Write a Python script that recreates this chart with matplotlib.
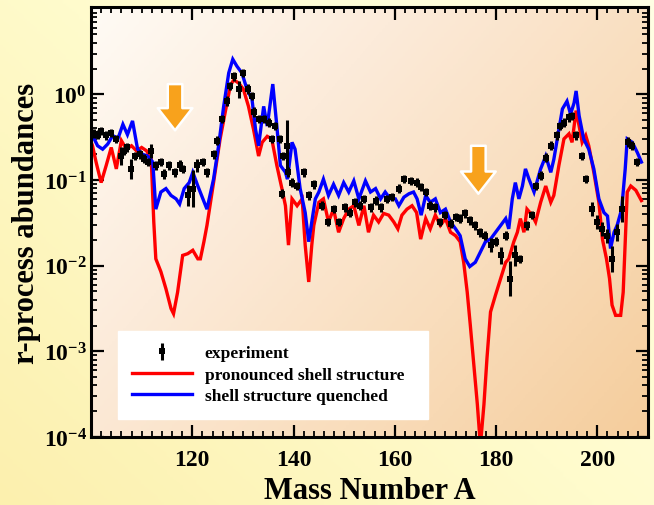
import numpy as np
import matplotlib
matplotlib.use('Agg')
import matplotlib.pyplot as plt
from matplotlib.colors import LinearSegmentedColormap
from matplotlib.ticker import FixedLocator, LogLocator, MultipleLocator, FixedFormatter, NullFormatter

# ---------------- data ----------------
# "pronounced shell structure" (red) : mass number and log10(abundance)
red_A = [100.0, 100.3, 101.0, 102.0, 103.0, 104.0, 105.0, 106.0, 107.0, 108.0, 109.0, 110.0, 111.0, 111.9,
         112.4, 112.8, 113.8, 114.8, 115.8, 116.3, 117.1, 118.1, 119.1, 120.1, 121.1, 121.6, 122.3, 122.9,
         124.2, 125.5, 126.5, 127.5, 128.2, 129.2, 130.1, 131.1, 132.1, 133.1, 133.8, 134.8, 135.7, 136.7,
         137.7, 138.4, 139.0, 139.7, 140.7, 141.7, 142.3, 143.0, 143.6, 144.0, 145.0, 145.9, 146.9, 147.9,
         148.9, 149.9, 150.9, 151.9, 152.9, 153.9, 154.8, 155.8, 156.8, 157.8, 158.8, 159.8, 160.6, 161.4,
         162.4, 163.4, 164.3, 165.1, 166.1, 167.0, 168.0, 169.0, 170.0, 171.0, 172.0, 172.9, 173.6, 174.3,
         174.9, 175.6, 176.3, 176.9, 177.6, 178.2, 178.9, 179.9, 180.9, 181.9, 182.5, 183.5, 184.2, 184.8,
         185.5, 186.1, 187.1, 187.8, 188.8, 189.8, 190.8, 191.4, 192.4, 193.4, 194.4, 195.0, 195.8, 196.4,
         197.0, 197.7, 198.3, 199.3, 200.3, 201.0, 201.8, 202.4, 202.9, 203.6, 204.6, 205.1, 205.5, 205.9,
         206.6, 207.6, 208.7]
red_logY = [-0.55, -0.60, -0.79, -1.03, -0.83, -0.62, -0.87, -0.54, -0.64, -0.60, -0.66, -0.62, -0.66, -0.76,
            -1.49, -1.92, -2.07, -2.27, -2.50, -2.56, -2.31, -1.88, -1.86, -1.82, -1.92, -1.92, -1.72, -1.53,
            -1.03, -0.52, -0.21, 0.10, 0.17, 0.13, 0.06, -0.14, -0.41, -0.72, -0.56, -0.49, -0.52, -0.83,
            -1.10, -1.30, -1.76, -1.22, -1.30, -1.22, -1.76, -2.19, -1.76, -1.53, -1.26, -1.22, -1.49, -1.34,
            -1.61, -1.45, -1.34, -1.30, -1.53, -1.30, -1.61, -1.41, -1.49, -1.39, -1.41, -1.49, -1.57, -1.41,
            -1.34, -1.30, -1.38, -1.69, -1.45, -1.57, -1.41, -1.53, -1.45, -1.61, -1.65, -1.72, -1.96, -2.31,
            -2.69, -3.16, -3.62, -4.10, -3.62, -3.08, -2.54, -2.34, -2.15, -1.96, -1.92, -1.72, -1.61, -1.45,
            -1.61, -1.34, -1.41, -1.49, -1.26, -1.07, -1.26, -1.18, -0.83, -0.52, -0.46, -0.56, -0.19, -0.37,
            -0.56, -0.48, -0.60, -0.91, -1.26, -1.69, -1.92, -2.15, -2.46, -2.58, -2.58, -2.31, -1.73, -1.14,
            -1.07, -1.12, -1.24]

# "shell structure quenched" (blue)
blue_A = [100.0, 100.3, 101.3, 102.3, 103.3, 104.3, 105.3, 106.3, 107.2, 108.2, 109.2, 110.2, 111.2, 112.2,
          112.8, 113.8, 114.8, 115.8, 116.8, 117.5, 118.4, 119.4, 120.1, 121.1, 122.1, 122.9, 124.2, 125.2,
          126.2, 127.2, 128.0, 128.8, 129.8, 130.8, 131.8, 132.5, 133.1, 134.1, 134.8, 135.9, 136.7, 137.4,
          138.4, 138.8, 139.7, 140.3, 141.3, 142.3, 143.0, 143.6, 144.3, 145.0, 145.9, 146.9, 147.9, 148.9,
          149.9, 150.9, 151.9, 152.9, 154.2, 155.2, 156.2, 157.2, 158.1, 159.1, 160.1, 160.8, 161.8, 162.8,
          163.7, 164.4, 165.2, 166.1, 167.0, 168.0, 169.0, 170.0, 171.0, 172.0, 172.9, 173.9, 174.8, 175.9,
          176.9, 177.9, 178.9, 179.9, 180.9, 181.9, 182.5, 183.2, 183.8, 184.5, 185.2, 185.8, 186.5, 187.5,
          188.8, 189.8, 190.8, 191.4, 192.4, 193.1, 194.0, 194.7, 195.4, 195.8, 196.4, 197.3, 198.3, 199.3,
          200.3, 201.3, 202.0, 202.6, 203.3, 203.9, 204.8, 205.5, 205.9, 206.9, 207.9, 208.7]
blue_logY = [-0.45, -0.48, -0.60, -0.64, -0.58, -0.48, -0.52, -0.35, -0.47, -0.31, -0.64, -0.70, -0.72, -0.79,
             -1.34, -1.14, -1.10, -1.18, -1.22, -1.28, -1.10, -1.03, -0.91, -1.07, -1.22, -1.34, -0.99, -0.60,
             -0.14, 0.25, 0.41, 0.33, 0.25, 0.06, -0.06, -0.41, -0.60, -0.14, -0.37, 0.12, -0.37, -0.83,
             -0.91, -0.99, -0.56, -0.64, -1.10, -1.38, -1.72, -1.49, -1.22, -1.14, -0.99, -1.18, -1.05, -1.18,
             -1.03, -1.14, -1.01, -1.22, -1.01, -1.14, -1.10, -1.22, -1.14, -1.22, -1.22, -1.30, -1.20, -1.16,
             -1.14, -1.22, -1.41, -1.18, -1.26, -1.22, -1.38, -1.34, -1.49, -1.57, -1.65, -1.92, -2.01, -1.96,
             -1.84, -1.72, -1.69, -1.61, -1.53, -1.45, -1.57, -1.22, -1.03, -1.22, -1.07, -0.87, -0.99, -1.14,
             -0.87, -0.72, -0.91, -0.76, -0.41, -0.17, -0.08, -0.23, -0.10, 0.04, -0.25, -0.52, -0.64, -0.87,
             -1.22, -1.38, -1.42, -1.80, -1.61, -1.53, -1.34, -0.87, -0.52, -0.56, -0.68, -0.79]

# experiment: mass number, log10(abundance), error (dex)
exp_A = [100.5, 101.3, 102.0, 103.0, 104.0, 105.0, 106.0, 106.6, 107.2, 107.9, 108.6, 109.6, 110.5, 111.3,
         111.9, 112.8, 113.8, 114.5, 115.5, 116.5, 117.5, 118.1, 119.1, 120.1, 120.9, 122.1, 122.9, 124.2,
         124.9, 125.9, 126.9, 127.5, 128.2, 129.2, 130.1, 131.1, 131.8, 132.1, 133.1, 134.1, 135.1, 135.7,
         136.4, 137.4, 137.7, 138.0, 138.8, 139.0, 139.7, 140.7, 142.0, 143.0, 144.0, 145.6, 146.9, 147.9,
         148.9, 150.2, 151.2, 152.2, 153.2, 153.9, 155.2, 156.2, 157.2, 158.5, 159.5, 160.8, 161.8, 163.1,
         164.3, 165.1, 166.1, 167.0, 168.0, 169.0, 170.0, 171.0, 172.0, 172.9, 173.9, 174.9, 175.9, 176.9,
         177.9, 178.9, 179.9, 180.9, 181.9, 182.8, 183.8, 184.8, 186.1, 187.1, 187.8, 188.8, 189.8, 190.8,
         192.1, 192.7, 193.4, 194.4, 195.0, 195.8, 196.9, 197.7, 199.0, 200.0, 201.0, 202.0, 202.8, 203.9,
         204.9, 206.1, 206.9, 207.9]
exp_logY = [-0.46, -0.47, -0.43, -0.48, -0.45, -0.52, -0.72, -0.66, -0.62, -0.87, -0.72, -0.70, -0.75, -0.79,
            -0.66, -0.83, -0.79, -0.93, -0.83, -0.91, -0.83, -0.87, -1.18, -1.10, -0.83, -0.79, -0.91, -0.70,
            -0.54, -0.29, -0.08, 0.10, 0.21, 0.06, 0.25, 0.06, -0.02, -0.21, -0.29, -0.29, -0.33, -0.52,
            -0.37, -0.52, -1.16, -0.72, -0.60, -0.91, -1.03, -1.07, -0.91, -1.18, -1.05, -1.30, -1.49, -1.34,
            -1.49, -1.32, -1.38, -1.26, -1.30, -1.22, -1.32, -1.24, -1.32, -1.22, -1.20, -1.10, -0.99, -1.01,
            -1.03, -1.08, -1.14, -1.30, -1.32, -1.49, -1.41, -1.51, -1.43, -1.45, -1.39, -1.47, -1.53, -1.61,
            -1.65, -1.76, -1.72, -1.88, -1.65, -2.15, -1.88, -1.92, -1.53, -1.41, -1.07, -0.95, -0.74, -0.60,
            -0.48, -0.37, -0.33, -0.27, -0.25, -0.48, -0.72, -0.99, -1.34, -1.49, -1.57, -1.65, -1.92, -1.61,
            -1.34, -0.56, -0.60, -0.79]
exp_err = [0.05, 0.05, 0.05, 0.05, 0.05, 0.05, 0.10, 0.05, 0.05, 0.12, 0.05, 0.05, 0.05, 0.05,
           0.08, 0.05, 0.05, 0.06, 0.05, 0.05, 0.06, 0.05, 0.12, 0.22, 0.08, 0.05, 0.05, 0.05,
           0.05, 0.05, 0.06, 0.05, 0.05, 0.10, 0.05, 0.06, 0.05, 0.06, 0.05, 0.05, 0.05, 0.05,
           0.05, 0.05, 0.05, 0.05, 0.30, 0.06, 0.05, 0.05, 0.05, 0.05, 0.05, 0.05, 0.05, 0.05,
           0.05, 0.05, 0.05, 0.05, 0.05, 0.05, 0.05, 0.05, 0.05, 0.05, 0.05, 0.05, 0.05, 0.05,
           0.05, 0.05, 0.05, 0.05, 0.05, 0.05, 0.05, 0.05, 0.05, 0.05, 0.05, 0.05, 0.05, 0.05,
           0.05, 0.08, 0.05, 0.10, 0.05, 0.20, 0.12, 0.05, 0.05, 0.05, 0.05, 0.05, 0.05, 0.05,
           0.05, 0.05, 0.05, 0.05, 0.05, 0.05, 0.05, 0.05, 0.08, 0.08, 0.08, 0.08, 0.15, 0.10,
           0.15, 0.06, 0.05, 0.05]

legend_labels = ['experiment', 'pronounced shell structure', 'shell structure quenched']
x_ticks = [120, 140, 160, 180, 200]
y_ticks = [1e-4, 1e-3, 1e-2, 1e-1, 1e0]
y_tick_labels = [r'$10^{-4}$', r'$10^{-3}$', r'$10^{-2}$', r'$10^{-1}$', r'$10^{0}$']
arrow_A = [116.6, 176.5]
arrow_tip = [10 ** -0.42, 10 ** -1.16]
arrow_tail = [10 ** 0.12, 10 ** -0.60]

# ---------------- style ----------------
plt.rcParams['font.family'] = ['Liberation Serif', 'DejaVu Serif']
plt.rcParams['font.weight'] = 'bold'
plt.rcParams['mathtext.fontset'] = 'custom'
plt.rcParams['mathtext.rm'] = 'Liberation Serif:bold'
plt.rcParams['mathtext.it'] = 'Liberation Serif:bold'
plt.rcParams['mathtext.bf'] = 'Liberation Serif:bold'

W, H = 654, 506
fig = plt.figure(figsize=(W / 100, H / 100), dpi=100)

# figure background gradient
bg = fig.add_axes([0, 0, 1, 1], zorder=-10)
bg.axis('off')
gx, gy = np.meshgrid(np.linspace(0, 1, 200), np.linspace(1, 0, 200))
tb = np.clip(0.55 * (1 - gx) + 0.45 * (1 - gy), 0, 1)
cmap_bg = LinearSegmentedColormap.from_list('bg', ['#FFFFE4', '#FFFBCC', '#FCF0AE'])
bg.imshow(tb, cmap=cmap_bg, extent=[0, 1, 0, 1], aspect='auto', vmin=0, vmax=1)

pos = [91 / W, 1 - 438 / H, (648 - 91) / W, (438 - 8) / H]
gax = fig.add_axes(pos, zorder=-5)
gax.axis('off')
ta = np.clip(0.6 * gx + 0.4 * (1 - gy), 0, 1)
cmap_ax = LinearSegmentedColormap.from_list('axbg', ['#FFFBF5', '#FCEBDA', '#F9DDBC', '#F5CD9C'])
gax.imshow(ta, cmap=cmap_ax, extent=[0, 1, 0, 1], aspect='auto', vmin=0, vmax=1)

ax = fig.add_axes(pos, zorder=1)
ax.patch.set_alpha(0)
ax.set_yscale('log')

red_y = 10 ** np.array(red_logY)
blue_y = 10 ** np.array(blue_logY)
ey = 10 ** np.array(exp_logY)
ee = np.array(exp_err)
lo = ey - ey * 10 ** (-ee)
hi = ey * 10 ** ee - ey

lr, = ax.plot(red_A, red_y, color='#FF0000', lw=2.4, zorder=2, solid_joinstyle='miter')
lb, = ax.plot(blue_A, blue_y, color='#0000FF', lw=2.4, zorder=2.5, solid_joinstyle='miter')
eb = ax.errorbar(exp_A, ey, yerr=[lo, hi], fmt='s', color='black', ms=5.0, mew=0,
                 elinewidth=2.2, capsize=0, zorder=3)

for A, yt, yl in zip(arrow_A, arrow_tip, arrow_tail):
    ax.annotate('', xy=(A, yt), xytext=(A, yl), xycoords='data', zorder=4,
                arrowprops=dict(arrowstyle='simple,head_length=1.6,head_width=2.5,tail_width=1.05',
                                mutation_scale=10, fc='#F8A21C', ec='white', lw=1.8,
                                shrinkA=0, shrinkB=0))

ax.set_xlim(100, 210)
ax.set_ylim(1e-4, 10 ** 1.02)

ax.xaxis.set_major_locator(FixedLocator(x_ticks))
ax.xaxis.set_minor_locator(MultipleLocator(2))
ax.yaxis.set_major_locator(FixedLocator(y_ticks))
ax.yaxis.set_major_formatter(FixedFormatter(y_tick_labels))
ax.yaxis.set_minor_locator(LogLocator(base=10, subs=np.arange(2, 10)))
ax.yaxis.set_minor_formatter(NullFormatter())

ax.tick_params(which='both', direction='in', top=True, right=True, color='black')
ax.tick_params(which='major', length=9, width=1.6)
ax.tick_params(which='minor', length=4.5, width=1.3)
ax.tick_params(axis='x', which='major', labelsize=17, pad=9)
ax.tick_params(axis='y', which='major', labelsize=17, pad=3)
for s in ax.spines.values():
    s.set_linewidth(2.2)

ax.set_xlabel('Mass Number A', fontsize=22, fontweight='bold', labelpad=4)
ax.set_ylabel('r-process abundances', fontsize=22, fontweight='bold', labelpad=2)

leg = ax.legend(handles=[eb, lr, lb], labels=legend_labels, loc='lower left',
                bbox_to_anchor=(0.048, 0.042, 0.557, 0.214), mode='expand',
                frameon=True, fancybox=False, framealpha=1, facecolor='white', edgecolor='white',
                prop={'family': 'Liberation Serif', 'weight': 'bold', 'size': 12.5},
                handlelength=3.4, borderpad=0.85, labelspacing=0.3, handletextpad=0.75,
                borderaxespad=0)
leg.set_zorder(5)

fig.savefig('out.png', dpi=100)
